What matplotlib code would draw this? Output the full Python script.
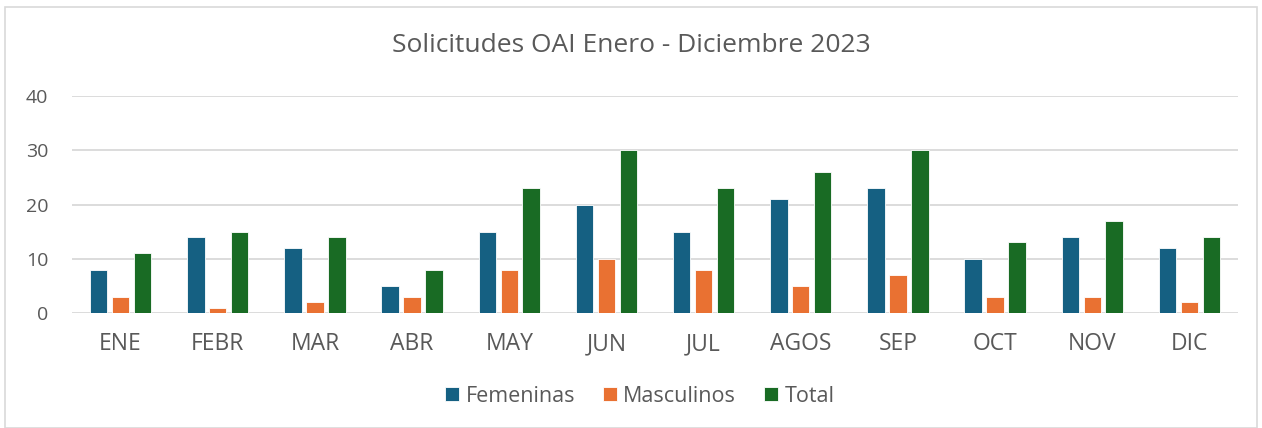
import matplotlib
matplotlib.use("Agg")
import matplotlib.pyplot as plt
import numpy as np
from matplotlib.patches import Rectangle

months = ["ENE", "FEBR", "MAR", "ABR", "MAY", "JUN", "JUL", "AGOS", "SEP", "OCT", "NOV", "DIC"]
femeninas = [8, 14, 12, 5, 15, 20, 15, 21, 23, 10, 14, 12]
masculinos = [3, 1, 2, 3, 8, 10, 8, 5, 7, 3, 3, 2]
total = [11, 15, 14, 8, 23, 30, 23, 26, 30, 13, 17, 14]
series = [("Femeninas", femeninas, "#156082"),
          ("Masculinos", masculinos, "#E97132"),
          ("Total", total, "#196B24")]
yticks = [0, 10, 20, 30, 40]

plt.rcParams['font.family'] = ['Open Sans', 'DejaVu Sans']
txt = "#595959"

fig = plt.figure(figsize=(12.62, 4.28), dpi=100)
ax = fig.add_axes([72/1262, 1-313/428, (1238-72)/1262, (313-96)/428])

x = np.arange(len(months))
w = 0.18
step = 0.226
for i, (name, vals, col) in enumerate(series):
    ax.bar(x + (i-1)*step, vals, width=w, color=col, label=name,
           edgecolor="white", linewidth=0.6, zorder=3)

ax.set_xlim(-0.5, len(months)-0.5)
ax.set_ylim(0, 40)
ax.set_yticks(yticks)
ax.set_yticklabels([str(t) for t in yticks], fontsize=14, color=txt)
ax.set_xticks(x)
ax.set_xticklabels(months, fontsize=16.5, color=txt)
ax.tick_params(axis='both', length=0)
ax.tick_params(axis='x', pad=14)
ax.tick_params(axis='y', pad=17)
for s in ax.spines.values():
    s.set_visible(False)
ax.grid(axis='y', color="#D9D9D9", linewidth=1.3, zorder=0)
ax.set_axisbelow(True)

fig.text(0.5, 1-46/428, "Solicitudes OAI Enero - Diciembre 2023", ha='center', va='center',
         fontsize=19, color=txt)

leg = fig.legend(loc='center', bbox_to_anchor=(0.507, 1-396/428), ncol=3, frameon=False,
                 fontsize=15.5, handlelength=0.65, handleheight=0.65, handletextpad=0.3,
                 columnspacing=1.3)
for t in leg.get_texts():
    t.set_color(txt)

fig.patches.append(Rectangle((5/1262, 0), (1257-5)/1262, 1-7/428, transform=fig.transFigure,
                             fill=False, edgecolor="#D9D9D9", linewidth=1.2))

fig.savefig("out.png", dpi=100)
